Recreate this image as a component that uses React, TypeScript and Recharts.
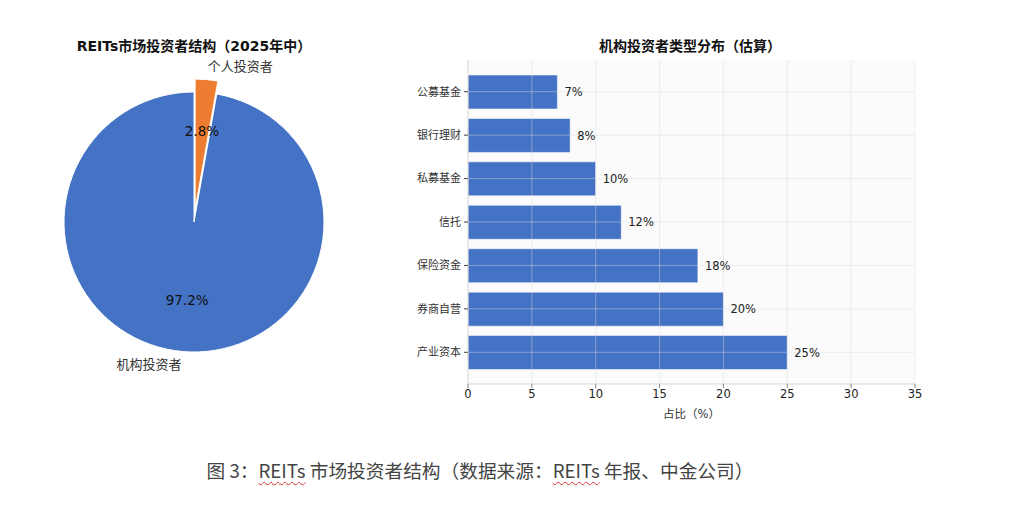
import React from "react";
import {
  PieChart, Pie, Cell, BarChart, Bar, XAxis, YAxis, CartesianGrid, LabelList, ReferenceLine,
} from "recharts";

const investorNames = ["机构投资者", "个人投资者"];
const investorShares = [97.2, 2.8];

const instTypes = ["公募基金", "银行理财", "私募基金", "信托", "保险资金", "券商自营", "产业资本"];
const instShares = [7, 8, 10, 12, 18, 20, 25];
const xTicks = [0, 5, 10, 15, 20, 25, 30, 35];

const BLUE = "#4472c4";
const ORANGE = "#ed7d31";
const FONT = '"DejaVu Sans", "Noto Sans CJK SC", sans-serif';
const RADIAN = Math.PI / 180;

const pieData = investorNames.map((name, i) => ({ name, value: investorShares[i] }));
const barData = instTypes.map((type, i) => ({ type, share: instShares[i] }));

// matplotlib-style pie labels: name at 1.1r, percentage at 0.6r
const makeLabel = (onlyIndex: number) => (props: any) => {
  const { cx, cy, midAngle, outerRadius, index } = props;
  if (index !== onlyIndex) return null;
  const c = Math.cos(-midAngle * RADIAN);
  const s = Math.sin(-midAngle * RADIAN);
  const nx = cx + outerRadius * 1.1 * c;
  const ny = cy + outerRadius * 1.1 * s;
  const px = cx + outerRadius * 0.6 * c;
  const py = cy + outerRadius * 0.6 * s;
  return (
    <g>
      <text x={nx} y={ny} textAnchor={nx < cx ? "end" : "start"} dominantBaseline="central"
        fontSize={13} fill="#333" fontFamily={FONT}>
        {pieData[index].name}
      </text>
      <text x={px} y={py} textAnchor="middle" dominantBaseline="central"
        fontSize={13.5} fill="#111" fontFamily={FONT}>
        {`${pieData[index].value.toFixed(1)}%`}
      </text>
    </g>
  );
};

const title: React.CSSProperties = {
  position: "absolute", top: 36, height: 20, lineHeight: "20px", textAlign: "center",
  fontFamily: FONT, fontWeight: "bold", fontSize: 14, color: "#111", whiteSpace: "nowrap",
};

const wavy: React.CSSProperties = {
  textDecoration: "underline wavy #e03030", textDecorationThickness: "1px", textUnderlineOffset: "3px",
};

const gridLine = { stroke: "#dddddd", strokeOpacity: 0.45, strokeWidth: 1 };

export default function App() {
  const explode = 13;
  return (
    <div style={{ position: "absolute", left: 0, top: 0, width: 1012, height: 526, background: "#fff" }}>
      <div style={{ ...title, left: 0, width: 388 }}>REITs市场投资者结构（2025年中）</div>
      <div style={{ ...title, left: 490, width: 400 }}>机构投资者类型分布（估算）</div>

      <div style={{ position: "absolute", left: 0, top: 0 }}>
        <PieChart width={400} height={420} margin={{ top: 0, right: 0, bottom: 0, left: 0 }}>
          <Pie data={pieData} dataKey="value" nameKey="name" cx={194} cy={222} outerRadius={130}
            startAngle={90} endAngle={450} isAnimationActive={false} labelLine={false} label={makeLabel(0)}>
            {pieData.map((_, i) => (
              <Cell key={i} fill={i === 0 ? BLUE : "transparent"} stroke={i === 0 ? "#fff" : "none"} strokeWidth={1} />
            ))}
          </Pie>
          <Pie data={pieData} dataKey="value" nameKey="name"
            cx={194 + explode * Math.cos(85 * RADIAN)} cy={222 - explode * Math.sin(85 * RADIAN)}
            outerRadius={130} startAngle={90} endAngle={450} isAnimationActive={false}
            labelLine={false} label={makeLabel(1)}>
            {pieData.map((_, i) => (
              <Cell key={i} fill={i === 1 ? ORANGE : "transparent"} stroke={i === 1 ? "#fff" : "none"} strokeWidth={1} />
            ))}
          </Pie>
        </PieChart>
      </div>

      <div style={{ position: "absolute", left: 400, top: 0 }}>
        <BarChart width={560} height={430} data={barData} layout="vertical"
          margin={{ top: 60, right: 45, bottom: 0, left: 0 }} barSize={34}>
          <CartesianGrid fill="#fbfbfb" horizontal={false} vertical={false} />
          <XAxis type="number" domain={[0, 35]} ticks={xTicks} height={46}
            tick={{ fontSize: 11.5, fill: "#222", fontFamily: FONT }} tickSize={4} tickMargin={2}
            axisLine={{ stroke: "#d5d5d5" }} tickLine={{ stroke: "#888" }}
            label={{ value: "占比（%）", position: "insideBottom", offset: 12, fontSize: 11.5, fill: "#333", fontFamily: FONT }} />
          <YAxis type="category" dataKey="type" width={68} padding={{ top: 10, bottom: 10 }}
            tick={{ fontSize: 11, fill: "#333", fontFamily: FONT }} tickSize={4} tickMargin={3}
            axisLine={{ stroke: "#d5d5d5" }} tickLine={{ stroke: "#444" }} />
          <Bar dataKey="share" fill={BLUE} stroke="rgba(255,255,255,0.55)" strokeWidth={1} isAnimationActive={false}>
            <LabelList dataKey="share" position="right" offset={7} formatter={(v: any) => `${v}%`}
              style={{ fontSize: 11.5, fill: "#222", fontFamily: FONT }} />
          </Bar>
          {xTicks.slice(1).map((t) => (
            <ReferenceLine key={`x${t}`} x={t} {...gridLine} />
          ))}
          {instTypes.map((c) => (
            <ReferenceLine key={`y${c}`} y={c} {...gridLine} />
          ))}
        </BarChart>
      </div>

      <div style={{
        position: "absolute", left: 12, width: 936, top: 457, lineHeight: "26px", textAlign: "center",
        fontFamily: '"Noto Sans CJK SC", sans-serif', fontSize: 18.7, color: "#444", whiteSpace: "nowrap",
      }}>
        图 3：<span style={wavy}>REITs</span> 市场投资者结构（数据来源：<span style={wavy}>REITs</span> 年报、中金公司）
      </div>
    </div>
  );
}
